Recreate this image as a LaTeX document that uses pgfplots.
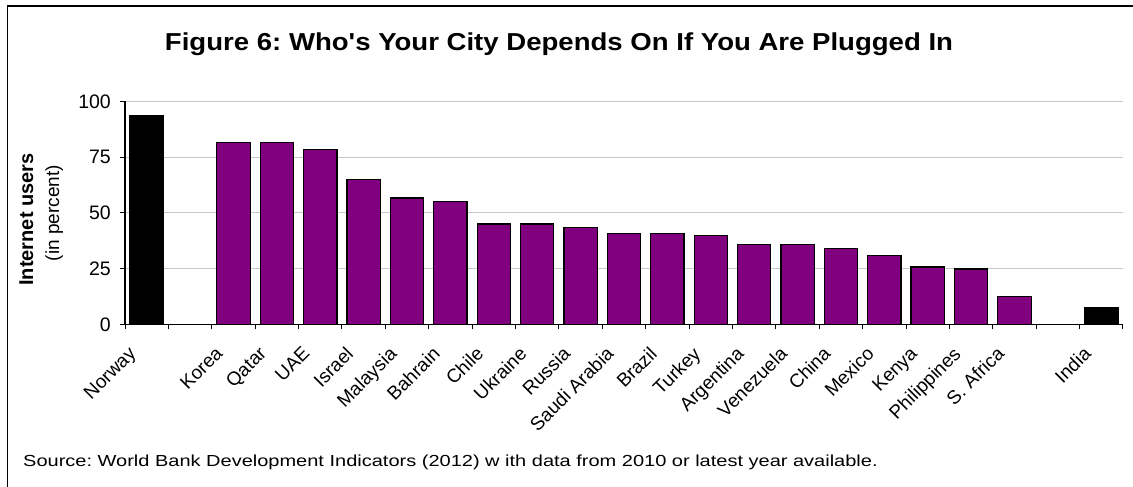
\documentclass[border=0pt]{standalone}
\usepackage{fontspec}
\setmainfont{Liberation Sans}
\usepackage{pgfplots}
\pgfplotsset{compat=1.18}
\definecolor{barpurple}{HTML}{800080}
\definecolor{gridgray}{HTML}{C8C8C8}
\frenchspacing
\begin{document}
\begin{tikzpicture}
\useasboundingbox (0,0) rectangle (1133bp,-487bp);
\draw[line width=1.5bp] (7.5bp,-490bp) -- (7.5bp,-6bp) -- (1140bp,-6bp);
\node[anchor=base, font=\fontsize{24.5bp}{28bp}\selectfont\bfseries] at (559bp,-50bp) {\scalebox{1.125}[1]{Figure 6: Who\textquotesingle s Your City Depends On If You Are Plugged In}};
\node[anchor=base west, font=\fontsize{16bp}{19bp}\selectfont, inner sep=0pt] at (23bp,-466.7bp) {\scalebox{1.25}[1]{Source: World Bank Development Indicators (2012) w ith data from 2010 or latest year available.}};
\node[rotate=90, anchor=base, font=\fontsize{20bp}{24bp}\selectfont\bfseries] at (33bp,-219.5bp) {Internet users};
\node[rotate=90, anchor=base, font=\fontsize{19bp}{23bp}\selectfont] at (59bp,-213bp) {(in percent)};
\begin{axis}[
  at={(125bp,-324.3bp)}, anchor=south west,
  scale only axis, width=998bp, height=223bp,
  xmin=-0.5, xmax=22.5, ymin=0, ymax=100,
  axis x line*=bottom, axis y line*=left,
  axis line style={line width=1.2bp, black},
  ytick={0,25,50,75,100},
  ymajorgrids, grid style={draw=gridgray, line width=1bp},
  tick align=outside, major tick length=5bp,
  tick style={black, line width=1bp},
  xtick={-0.5,0.5,...,22.5}, xticklabels={},
  extra x ticks={0,1,...,22},
  extra x tick labels={Norway,{},Korea,Qatar,UAE,Israel,Malaysia,Bahrain,Chile,Ukraine,Russia,Saudi Arabia,Brazil,Turkey,Argentina,Venezuela,China,Mexico,Kenya,Philippines,S. Africa,{},India},
  extra x tick style={major tick length=0pt, grid=none},
  xticklabel style={font=\fontsize{19bp}{22bp}\selectfont, xshift=-19bp, yshift=-21bp, rotate=45, anchor=north east, inner sep=0pt},
  yticklabel style={font=\fontsize{19.5bp}{22bp}\selectfont, inner sep=0pt, xshift=-9bp},
  /pgf/number format/assume math mode=true,
  clip=false,
]
\addplot[ybar, bar shift=0pt, bar width=33.3bp, fill=black, draw=black, line width=1.2bp] coordinates {(0,93.5) (22,7.6)};
\addplot[ybar, bar shift=0pt, bar width=33.3bp, fill=barpurple, draw=black, line width=1.2bp] coordinates {
(2,81.6) (3,81.6) (4,78.3) (5,65.0) (6,56.6) (7,55.0) (8,45.0) (9,45.0) (10,43.3) (11,40.6)
(12,40.6) (13,39.9) (14,35.7) (15,35.7) (16,34.1) (17,30.8) (18,25.7) (19,24.8) (20,12.4)};
\end{axis}
\end{tikzpicture}
\end{document}
